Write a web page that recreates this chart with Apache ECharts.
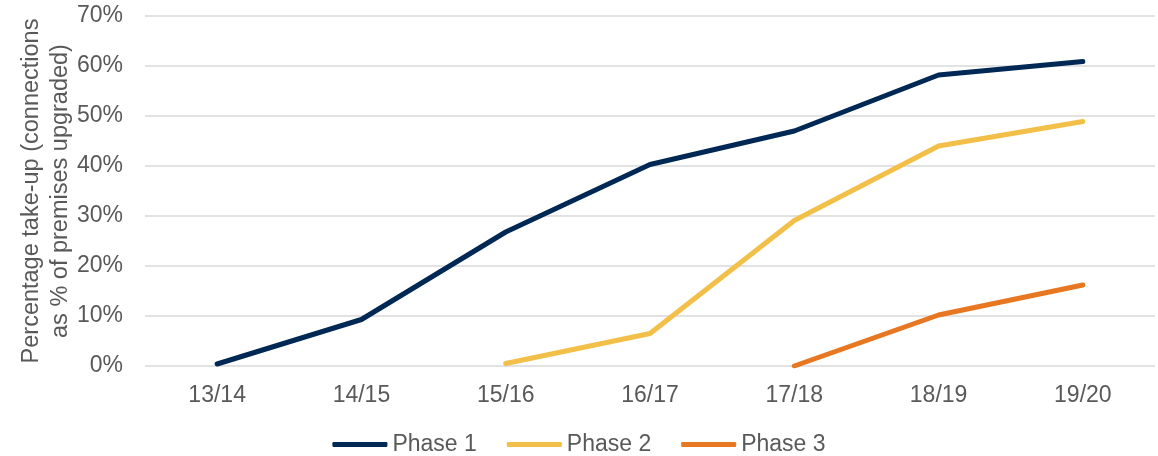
<!DOCTYPE html>
<html>
<head>
<meta charset="utf-8">
<script src="https://cdn.jsdelivr.net/npm/echarts@6/dist/echarts.min.js"></script>
<style>
  html, body { margin: 0; padding: 0; background: #ffffff; }
  #chart { width: 1158px; height: 456px; }
</style>
</head>
<body>
<div id="chart"></div>
<script>
// Financial years
const years = ['13/14', '14/15', '15/16', '16/17', '17/18', '18/19', '19/20'];

// Take-up (%) per phase; null where a phase had not started
const phase1 = [0.4, 9.3, 26.8, 40.3, 47.0, 58.2, 60.9];
const phase2 = [null, null, 0.5, 6.5, 29.1, 44.0, 48.9];
const phase3 = [null, null, null, null, 0.0, 10.2, 16.2];

const seriesNames = ['Phase 1', 'Phase 2', 'Phase 3'];
const seriesColors = ['#002855', '#F2BF49', '#E87722'];
const seriesData = [phase1, phase2, phase3];

const textColor = '#595959';
const fontFamily = '"Liberation Sans", Arial, sans-serif';
const labelSize = 23;

const chart = echarts.init(document.getElementById('chart'), null, { renderer: 'canvas' });

chart.setOption({
  animation: false,
  backgroundColor: '#ffffff',
  textStyle: { fontFamily: fontFamily },
  grid: { left: 145, right: 3, top: 16, bottom: 90, containLabel: false },
  legend: {
    bottom: 0,
    padding: 0,
    left: 'center',
    icon: 'roundRect',
    itemWidth: 55,
    itemHeight: 5,
    itemGap: 30,
    textStyle: { color: textColor, fontSize: labelSize, fontFamily: fontFamily },
    data: seriesNames
  },
  xAxis: {
    type: 'category',
    data: years,
    boundaryGap: true,
    axisLine: { show: false },
    axisTick: { show: false },
    axisLabel: { color: textColor, fontSize: labelSize, margin: 18, fontFamily: fontFamily }
  },
  yAxis: {
    type: 'value',
    min: 0,
    max: 70,
    interval: 10,
    name: 'Percentage take-up (connections\nas % of premises upgraded)',
    nameLocation: 'middle',
    nameGap: 70,
    nameMoveOverlap: false,
    nameTextStyle: { color: textColor, fontSize: 23.5, lineHeight: 29, align: 'center', fontFamily: fontFamily },
    axisLine: { show: false },
    axisTick: { show: false },
    axisLabel: { color: textColor, fontSize: labelSize, margin: 22, formatter: '{value}%', fontFamily: fontFamily },
    splitLine: { lineStyle: { color: '#D9D9D9', width: 1.5 } }
  },
  series: seriesNames.map((name, i) => ({
    name: name,
    type: 'line',
    data: seriesData[i],
    symbol: 'none',
    connectNulls: false,
    itemStyle: { color: seriesColors[i] },
    lineStyle: { color: seriesColors[i], width: 5, cap: 'round', join: 'round' }
  }))
});
</script>
</body>
</html>
